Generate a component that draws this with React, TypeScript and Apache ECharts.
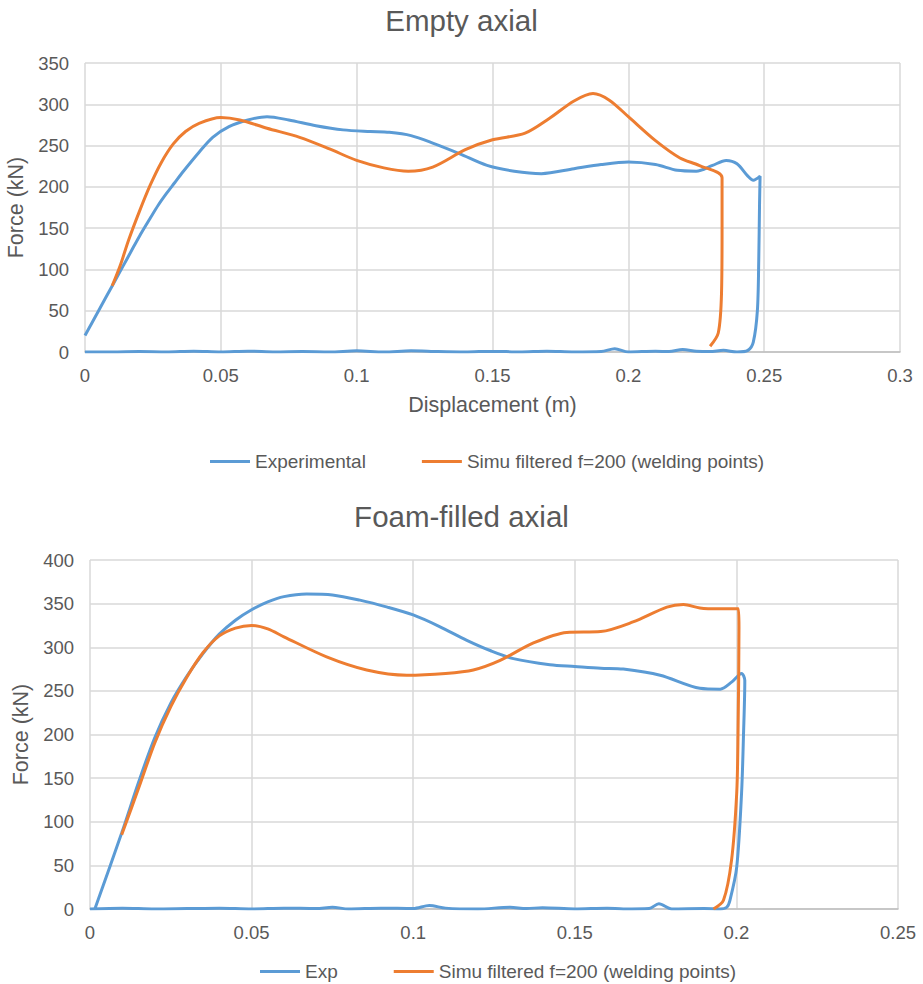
import React, { useEffect, useRef } from "react";
import * as echarts from "echarts";

const emptyTitle = "Empty axial";
const foamTitle = "Foam-filled axial";
const emptyNames = ["Experimental", "Simu filtered f=200 (welding points)"];
const foamNames = ["Exp", "Simu filtered f=200 (welding points)"];

const emptyExp: [number, number][] = [
  [0, 20], [0.005, 50], [0.01, 80], [0.014, 104], [0.017, 122], [0.02, 140], [0.024, 162],
  [0.027, 178], [0.03, 192], [0.033, 205], [0.036, 218], [0.042, 242], [0.047, 260],
  [0.053, 273], [0.06, 281], [0.067, 285], [0.075, 281], [0.085, 274], [0.095, 269],
  [0.105, 267], [0.112, 266], [0.12, 262], [0.128, 253], [0.138, 240], [0.148, 226],
  [0.158, 219], [0.168, 216], [0.18, 222], [0.19, 227], [0.2, 230], [0.21, 227],
  [0.218, 220], [0.225, 219], [0.231, 226], [0.236, 232], [0.24, 228], [0.244, 213],
  [0.246, 208], [0.2485, 213], [0.2483, 180], [0.248, 110], [0.2475, 50], [0.246, 12],
  [0.244, 2], [0.24, 0], [0.235, 2], [0.23, 0.5], [0.225, 1], [0.22, 3], [0.215, 0.5],
  [0.21, 1], [0.2, 0], [0.195, 4], [0.19, 0.5], [0.18, 0], [0.17, 1], [0.16, 0], [0.15, 1],
  [0.14, 0], [0.13, 0.5], [0.12, 1.5], [0.11, 0], [0.1, 1.5], [0.09, 0], [0.08, 0.5],
  [0.07, 0], [0.06, 1], [0.05, 0], [0.04, 1], [0.03, 0], [0.02, 0.5], [0.01, 0], [0, 0],
];

const emptySim: [number, number][] = [
  [0.01, 80], [0.013, 105], [0.016, 135], [0.02, 170], [0.024, 202], [0.028, 229],
  [0.0325, 252], [0.037, 267], [0.042, 277], [0.05, 284], [0.057, 281], [0.067, 271],
  [0.079, 260], [0.09, 246], [0.1, 232], [0.11, 223], [0.119, 219], [0.128, 224],
  [0.14, 245], [0.15, 257], [0.162, 265], [0.171, 283], [0.18, 304], [0.187, 313],
  [0.193, 305], [0.2, 285], [0.21, 256], [0.219, 235], [0.226, 226], [0.2345, 211],
  [0.2345, 150], [0.2343, 71], [0.2331, 23], [0.2301, 7],
];

const foamExp: [number, number][] = [
  [0.0015, 0], [0.0098, 87], [0.015, 145], [0.02, 196], [0.025, 236], [0.03, 267],
  [0.035, 293], [0.04, 315], [0.045, 331], [0.05, 343], [0.055, 352], [0.06, 358],
  [0.067, 361], [0.075, 360], [0.0835, 354], [0.092, 346], [0.1, 337], [0.108, 324],
  [0.1166, 308], [0.124, 296], [0.131, 287], [0.1423, 280], [0.15, 278], [0.158, 276],
  [0.165, 275], [0.1764, 268], [0.1887, 253], [0.195, 252], [0.1985, 260], [0.2016, 270],
  [0.2026, 262], [0.2022, 200], [0.2016, 133], [0.2001, 48], [0.198, 10], [0.197, 2],
  [0.195, 0], [0.19, 0.5], [0.18, 0], [0.176, 6], [0.173, 0.5], [0.165, 0], [0.16, 1],
  [0.15, 0], [0.14, 1.5], [0.135, 0.5], [0.13, 2], [0.12, 0], [0.11, 1], [0.105, 4],
  [0.1, 0.5], [0.09, 1], [0.08, 0], [0.075, 2], [0.07, 0.5], [0.06, 1], [0.05, 0],
  [0.04, 1], [0.03, 0.5], [0.02, 0], [0.01, 1], [0, 0],
];

const foamSim: [number, number][] = [
  [0.0098, 85], [0.015, 138], [0.02, 190], [0.025, 232], [0.03, 266], [0.035, 294],
  [0.04, 313], [0.045, 322], [0.05, 325], [0.055, 321], [0.06, 312], [0.0732, 289],
  [0.0856, 274], [0.098, 268], [0.11, 270], [0.1186, 274], [0.1269, 285], [0.1372, 305],
  [0.1475, 317], [0.158, 318], [0.168, 329], [0.1785, 346], [0.1836, 349], [0.1887, 345],
  [0.1945, 344], [0.2006, 344], [0.2008, 323], [0.2005, 200], [0.2001, 133], [0.1985, 56],
  [0.196, 10], [0.1929, 0],
];

const BLUE = "#5B9BD5";
const ORANGE = "#ED7D31";
const TXT = "#595959";
const FONT = "'Liberation Sans', Arial, sans-serif";

export default function App() {
  const ref = useRef<HTMLDivElement>(null);
  useEffect(() => {
    document.body.style.margin = "0";
    const chart = echarts.init(ref.current!, null, { renderer: "svg" });
    const xAxisBase = (max: number) => ({
      type: "value" as const,
      min: 0,
      max,
      interval: 0.05,
      axisLine: { show: true, lineStyle: { color: "#bfbfbf", width: 1.5 } },
      axisTick: { show: false },
      axisLabel: { color: TXT, fontSize: 18.5, margin: 14, fontFamily: FONT },
      splitLine: { show: true, lineStyle: { color: "#d9d9d9", width: 1.5 } },
    });
    const yAxisBase = (max: number, gap: number) => ({
      type: "value" as const,
      min: 0,
      max,
      interval: 50,
      name: "Force (kN)",
      nameLocation: "middle" as const,
      nameGap: gap,
      nameTextStyle: { color: TXT, fontSize: 21.5, fontFamily: FONT },
      axisLine: { show: false },
      axisTick: { show: false },
      axisLabel: { color: TXT, fontSize: 18.5, margin: 16, fontFamily: FONT },
      splitLine: { show: true, lineStyle: { color: "#d9d9d9", width: 1.5 } },
    });
    const lineSeries = (name: string, data: [number, number][], color: string, idx: number) => ({
      type: "line" as const,
      name,
      data,
      xAxisIndex: idx,
      yAxisIndex: idx,
      showSymbol: false,
      smooth: 0.3,
      lineStyle: { color, width: 3 },
      itemStyle: { color },
    });
    const legendBase = {
      icon: "rect",
      itemWidth: 40,
      itemHeight: 3,
      itemGap: 56,
      textStyle: { color: TXT, fontSize: 19, fontFamily: FONT },
    };
    chart.setOption({
      animation: false,
      textStyle: { fontFamily: FONT },
      title: [
        { text: emptyTitle, left: "center", top: 0, textStyle: { color: TXT, fontSize: 29.5, fontWeight: "normal", fontFamily: FONT } },
        { text: foamTitle, left: "center", top: 496, textStyle: { color: TXT, fontSize: 29.5, fontWeight: "normal", fontFamily: FONT } },
      ],
      legend: [
        { ...legendBase, data: [emptyNames[0], emptyNames[1]], top: 447, left: 205 },
        { ...legendBase, data: [foamNames[0], foamNames[1]], top: 957, left: 255 },
      ],
      grid: [
        { left: 85, right: 23, top: 63, height: 289, outerBoundsMode: "none" },
        { left: 90, right: 25, top: 560, height: 349, outerBoundsMode: "none" },
      ],
      xAxis: [
        {
          ...xAxisBase(0.3),
          gridIndex: 0,
          name: "Displacement (m)",
          nameLocation: "middle",
          nameGap: 42,
          nameTextStyle: { color: TXT, fontSize: 21.5, fontFamily: FONT },
        },
        { ...xAxisBase(0.25), gridIndex: 1 },
      ],
      yAxis: [
        { ...yAxisBase(350, 49), gridIndex: 0 },
        { ...yAxisBase(400, 48), gridIndex: 1 },
      ],
      series: [
        lineSeries(emptyNames[0], emptyExp, BLUE, 0),
        lineSeries(emptyNames[1], emptySim, ORANGE, 0),
        lineSeries(foamNames[0], foamExp, BLUE, 1),
        lineSeries(foamNames[1], foamSim, ORANGE, 1),
      ],
    });
    return () => chart.dispose();
  }, []);
  return <div ref={ref} style={{ width: 923, height: 984 }} />;
}
